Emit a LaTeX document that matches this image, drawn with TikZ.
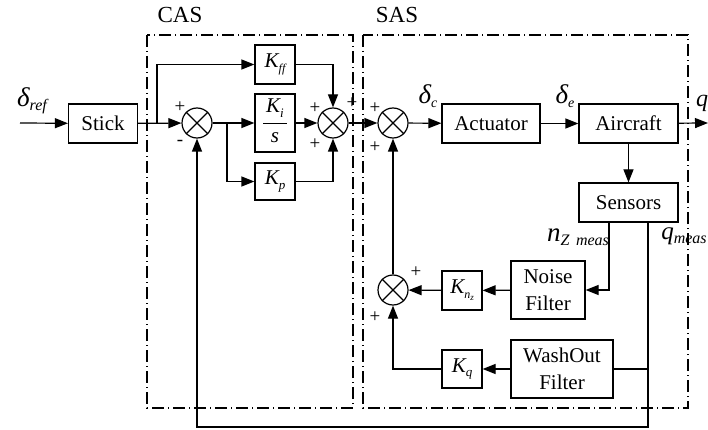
\documentclass[tikz,border=0pt]{standalone}
\usepackage{fontspec}
\setmainfont{Liberation Serif}
\usetikzlibrary{arrows.meta}
\newcommand\lsub[2][13]{\raisebox{-0.45ex}{\fontsize{#1}{#1}\selectfont\itshape #2}}
\tikzset{
  blk/.style={draw, line width=1.2pt, minimum height=39pt, inner sep=0pt,
    font=\fontsize{21}{27}\selectfont, align=center},
  sumj/.style={draw, circle, minimum size=30pt, inner sep=0pt, line width=1.2pt},
  con/.style={line width=1.2pt, -{Triangle[length=13pt,width=10pt]}},
  ln/.style={line width=1.2pt},
  pm/.style={font=\fontsize{19}{19}\selectfont, inner sep=0pt},
  grp/.style={line width=1.1pt, dash pattern=on 12pt off 4pt on 1pt off 4pt},
  lbl/.style={inner sep=0pt, font=\fontsize{22}{22}\selectfont\itshape},
  ttl/.style={inner sep=0pt, font=\fontsize{23}{23}\selectfont}
}
\begin{document}
\begin{tikzpicture}[x=1pt,y=-1pt]
\useasboundingbox (0,0) rectangle (708,430);
% group boxes
\draw[grp] (147,35) rectangle (353,408);
\draw[grp] (363,35) rectangle (688,408);
\node[ttl] (cas) at (180,15) {CAS};
\node[ttl] (sas) at (397,15) {SAS};
% blocks
\node[blk, minimum width=69pt] (stick) at (103,123.5) {Stick};
\node[blk, minimum width=40pt] (kff) at (275,64.5) {\itshape K\lsub[12]{ff}};
\node[blk, minimum width=40pt, minimum height=58pt] (ki) at (275,123) {};
\node[blk, minimum width=40pt, minimum height=37pt] (kp) at (275,181.5) {\itshape K\lsub{p}};
\node[sumj] (s1) at (197,123) {};
\node[sumj] (s2) at (333,123) {};
\node[sumj] (s3) at (393,123) {};
\node[sumj] (s4) at (393,290) {};
\node[blk, minimum width=98pt] (act) at (491,123.5) {Actuator};
\node[blk, minimum width=99pt] (acft) at (628.5,123.5) {Aircraft};
\node[blk, minimum width=99pt] (sens) at (628.5,202.5) {Sensors};
\node[blk, minimum width=74pt, minimum height=58pt] (noise) at (548,290) {Noise\\Filter};
\node[blk, minimum width=40pt] (knz) at (462,290.5) {\itshape K\lsub[12]{n\lsub[9]{z}}};
\node[blk, minimum width=102pt, minimum height=58pt] (wash) at (562,369) {WashOut\\Filter};
\node[blk, minimum width=40pt, minimum height=38pt] (kq) at (462,369) {\itshape K\lsub{q}};
% fraction inside ki
\node[lbl, font=\fontsize{21}{21}\selectfont\itshape] (kinum) at (275,108) {K\lsub{i}};
\node[lbl, font=\fontsize{21}{21}\selectfont\itshape] (kiden) at (275,138) {s};
\draw[line width=0.9pt] ([xshift=-12pt]ki.center) -- ([xshift=12pt]ki.center);
% crosses in summing junctions
\foreach \s in {s1,s2,s3,s4}{
  \draw[ln] (\s.north west) -- (\s.south east);
  \draw[ln] (\s.north east) -- (\s.south west);
}
% coordinates
\coordinate (in) at (20,123);
\coordinate (b1) at (157,123);
\coordinate (b2) at (227,123);
\coordinate (out) at (708,123);
\coordinate (qb) at (648,427);
\coordinate (qw) at (648,369);
% connectors
\draw[con] (in) -- (stick);
\draw[con] (stick) -- (s1);
\draw[con] (b1) |- (kff);
\draw[con] (s1) -- (ki);
\draw[con] (b2) |- (kp);
\draw[con] (ki) -- (s2);
\draw[con] (kff) -| (s2);
\draw[con] (kp) -| (s2);
\draw[con] (s2) -- (s3);
\draw[con] (s3) -- (act);
\draw[con] (act) -- (acft);
\draw[con] (acft) -- (out);
\draw[con] (acft) -- (sens);
\draw[con] ([xshift=-19.5pt]sens.south) |- (noise);
\draw[con] ([xshift=19.5pt]sens.south) -- (qb) -| (s1);
\draw[ln] (qw) -- (wash);
\draw[con] (noise) -- (knz);
\draw[con] (knz) -- (s4);
\draw[con] (wash) -- (kq);
\draw[con] (kq) -| (s4);
\draw[con] (s4) -- (s3);
% signs
\node[pm] (p1a) at (180,107) {+};
\node[pm] (p1b) at (180,143) {-};
\node[pm] (p2a) at (315,108) {+};
\node[pm] (p2b) at (352,103) {+};
\node[pm] (p2c) at (315,144) {+};
\node[pm] (p3a) at (375,108) {+};
\node[pm] (p3b) at (375,147) {+};
\node[pm] (p4a) at (416,272) {+};
\node[pm] (p4b) at (375,317) {+};
% signal labels
\node[lbl] (dref) at (32,101) {{\fontsize{27}{27}\selectfont δ}\lsub[16]{ref}};
\node[lbl] (dc) at (428,96) {{\fontsize{27}{27}\selectfont δ}\lsub[14]{c}};
\node[lbl] (de) at (565,96) {{\fontsize{27}{27}\selectfont δ}\lsub[14]{e}};
\node[lbl, anchor=west, font=\fontsize{24}{24}\selectfont\itshape] (qout) at (696,103) {q};
\node[lbl] (nz) at (578,237) {{\fontsize{27}{27}\selectfont n}\lsub[16]{Z\, meas}};
\node[lbl] (qm) at (684,236) {{\fontsize{25}{25}\selectfont q}\lsub[16]{meas}};
\end{tikzpicture}
\end{document}
